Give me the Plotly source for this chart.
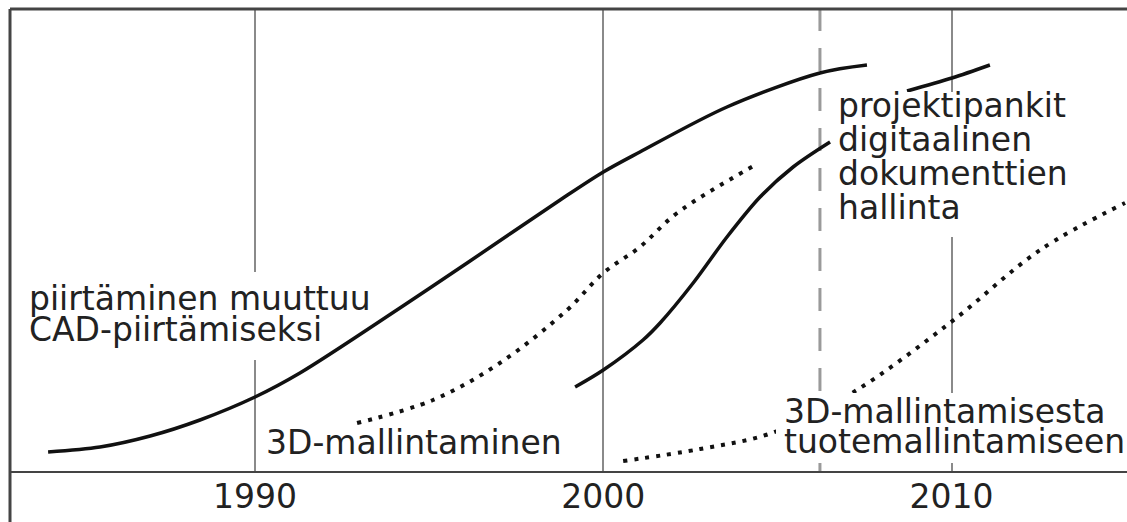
import plotly.graph_objects as go

# --- data (year, relative adoption level) ---
years_cad = [1984.06, 1985.55, 1986.99, 1988.42, 1990.0, 1991.29, 1994.16, 1996.09, 1998.76, 2000.0, 2001.05, 2003.55, 2006.22, 2007.57]
level_cad = [19, 24, 35, 51, 74, 98, 163, 208, 271, 299, 319, 364, 398, 406]

years_3d = [1992.93, 1995.11, 1997.03, 1998.96, 2000.0, 2001.05, 2002.12, 2004.41]
level_3d = [48, 71, 108, 161, 198, 224, 258, 307]

years_doc = [1999.19, 2000.0, 2001.14, 2001.63, 2002.58, 2003.55, 2004.50, 2005.45, 2006.51]
level_doc = [84, 101, 131, 148, 188, 234, 274, 304, 329]

years_bank = [2008.72, 2010.01, 2011.10]
level_bank = [380, 393, 406]

years_pm = [2000.57, 2002.78, 2004.84, 2007.14, 2009.95, 2012.54, 2014.98]
level_pm = [10, 22, 38, 78, 148, 221, 268]

tick_years = [1990, 2000, 2010]
tick_labels = ["1990", "2000", "2010"]
marker_year = 2006.22

label_cad = ["piirtäminen muuttuu", "CAD-piirtämiseksi"]
label_3d = ["3D-mallintaminen"]
label_doc = ["projektipankit", "digitaalinen", "dokumenttien", "hallinta"]
label_pm = ["3D-mallintamisesta", "tuotemallintamiseen"]

# --- layout constants ---
W, H = 1127, 522
ML, MR, MT, MB = 10, 0, 9, 51
PW = W - ML - MR
PH = H - MT - MB
px_per_year = 34.83
x0 = 1990 - (255 - ML) / px_per_year
x1 = x0 + PW / px_per_year

FONT = "DejaVu Sans"
FS = 33
TXT = "#222222"
INK = "#111111"


def lvl(py):
    return (MT + PH) - py


def yr(px):
    return 1990 + (px - 255) / px_per_year


fig = go.Figure()

solid = dict(color=INK, width=3.5, shape="spline", smoothing=0.9)
dotted = dict(color=INK, width=4, shape="spline", smoothing=1.0, dash="4px,7px")

fig.add_trace(go.Scatter(x=years_cad, y=level_cad, mode="lines", line=solid))
fig.add_trace(go.Scatter(x=years_3d, y=level_3d, mode="lines", line=dotted))
fig.add_trace(go.Scatter(x=years_doc, y=level_doc, mode="lines", line=solid))
fig.add_trace(go.Scatter(x=years_bank, y=level_bank, mode="lines", line=solid))
fig.add_trace(go.Scatter(x=years_pm, y=level_pm, mode="lines", line=dotted))

# dashed marker line
fig.add_shape(type="line", xref="x", yref="paper", x0=marker_year, x1=marker_year,
              y0=0, y1=1, layer="below",
              line=dict(color="#9a9a9a", width=3, dash="23px,17px"))


# white backgrounds behind the label blocks (they hide grid lines / curves)
def white_box(px0, px1, py0, py1):
    fig.add_shape(type="rect", xref="x", yref="y",
                  x0=yr(px0), x1=yr(px1), y0=lvl(py1), y1=lvl(py0),
                  fillcolor="white", line=dict(width=0), layer="above")


white_box(22, 372, 272, 316)
white_box(22, 300, 314, 360)
white_box(300, 330, 314, 346)
white_box(836, 1072, 92, 200)
white_box(836, 965, 200, 237)
white_box(776, 1127, 393, 463)

# frame: top line and left line (extends below axis)
fig.add_shape(type="line", xref="paper", yref="paper", x0=0, x1=1, y0=1, y1=1,
              line=dict(color="#444444", width=3))
fig.add_shape(type="line", xref="paper", yref="paper", x0=0, x1=0,
              y0=-MB / PH, y1=1, line=dict(color="#444444", width=3))


def add_lines(texts, left_px, baselines):
    for t, b in zip(texts, baselines):
        fig.add_annotation(x=yr(left_px), y=lvl(b - 36), xref="x", yref="y",
                           text=t, showarrow=False, xanchor="left", yanchor="top",
                           font=dict(family=FONT, size=FS, color=TXT),
                           borderpad=3)


add_lines(label_cad, 25, [311, 342])
add_lines(label_3d, 262, [455])
add_lines(label_doc, 834, [118, 152, 186, 220])
add_lines(label_pm, 780, [424, 454])

fig.update_xaxes(range=[x0, x1], tickvals=tick_years, ticktext=tick_labels,
                 showgrid=True, gridcolor="#8a8a8a", gridwidth=2,
                 showline=True, linecolor="#444444", linewidth=2,
                 ticks="", ticklen=0, zeroline=False, ticklabelstandoff=-5,
                 tickfont=dict(family=FONT, size=FS, color=TXT))
fig.update_yaxes(range=[0, PH], showgrid=False, showticklabels=False,
                 zeroline=False, showline=False)

fig.update_layout(width=W, height=H, autosize=False,
                  margin=dict(l=ML, r=MR, t=MT, b=MB, pad=0),
                  paper_bgcolor="white", plot_bgcolor="white",
                  showlegend=False)

fig.write_html("out.html", config={"displayModeBar": False},
               post_script="document.body.style.margin='0';")
